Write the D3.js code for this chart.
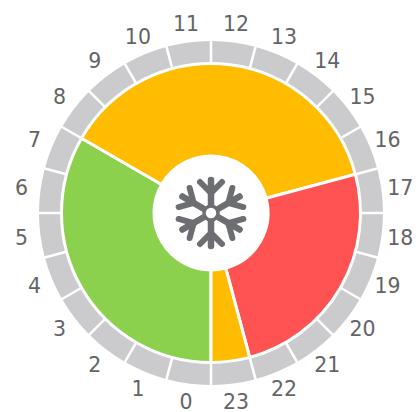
<!DOCTYPE html>
<html lang="en">

<head>
  <meta charset="UTF-8" />
  <title>24 hour wheel</title>
  <script src="https://d3js.org/d3.v7.min.js"></script>
  <style>
    html, body { margin: 0; padding: 0; background: #fff; }
    svg { display: block; }
  </style>
</head>

<body>
  <svg id="svg"></svg>
</body>

<script>
  const hours = d3.range(0, 24).map(String);
  const hourValues = hours.map(() => 1);
  // hours per block, going round clockwise from hour 0
  const blockNames = ["green", "orange", "red", "orange2"];
  const blockHours = [8, 9, 6, 1];
  const blockColors = ["#8cd14e", "#ffbc00", "#ff5252", "#ffbc00"];

  const width = 419;
  const height = 412;
  const cx = 211;
  const cy = 213;

  const svg = d3.select("#svg").attr("width", width).attr("height", height);
  const g = svg.append("g").attr("transform", `translate(${cx}, ${cy})`);

  // hour 0 starts at the bottom and runs clockwise
  const pie = d3.pie().sort(null).startAngle(Math.PI).endAngle(3 * Math.PI);

  // ring gaps come from padding so the ring stays close to the blocks
  const ringArc = d3.arc().innerRadius(150).outerRadius(172).padAngle(0.016).padRadius(160);
  const hourSlices = pie(hourValues);
  g.append("g")
    .selectAll("path")
    .data(hourSlices)
    .join("path")
    .attr("d", ringArc)
    .attr("fill", "#cbcbcd");

  const blockArc = d3.arc().innerRadius(57).outerRadius(149.5);
  g.append("g")
    .selectAll("path")
    .data(pie(blockHours))
    .join("path")
    .attr("d", blockArc)
    .attr("fill", (d, i) => blockColors[i])
    .attr("stroke", "#fff")
    .attr("stroke-width", 3);

  // hour labels
  const labelArc = d3.arc().innerRadius(191).outerRadius(191);
  g.append("g")
    .selectAll("text")
    .data(hourSlices)
    .join("text")
    .text((d, i) => hours[i])
    .attr("transform", (d) => `translate(${labelArc.centroid(d)})`)
    .attr("text-anchor", "middle")
    .attr("dominant-baseline", "central")
    .attr("font-family", "DejaVu Sans")
    .attr("font-size", 20.5)
    .attr("fill", "#636466");

  // snowflake icon: six rotated arms round a small hub
  const icon = g.append("g")
    .attr("fill", "none")
    .attr("stroke", "#6d6e71")
    .attr("stroke-linecap", "round");
  d3.range(6).forEach((i) => {
    const arm = icon.append("g").attr("transform", `rotate(${i * 60})`);
    arm.append("path").attr("d", "M0,-9V-33").attr("stroke-width", 6.5);
    arm.append("path").attr("d", "M-11,-31L0,-20L11,-31").attr("stroke-width", 6);
  });
  icon.append("circle").attr("r", 7).attr("fill", "#fff").attr("stroke-width", 3.5);
</script>

</html>
